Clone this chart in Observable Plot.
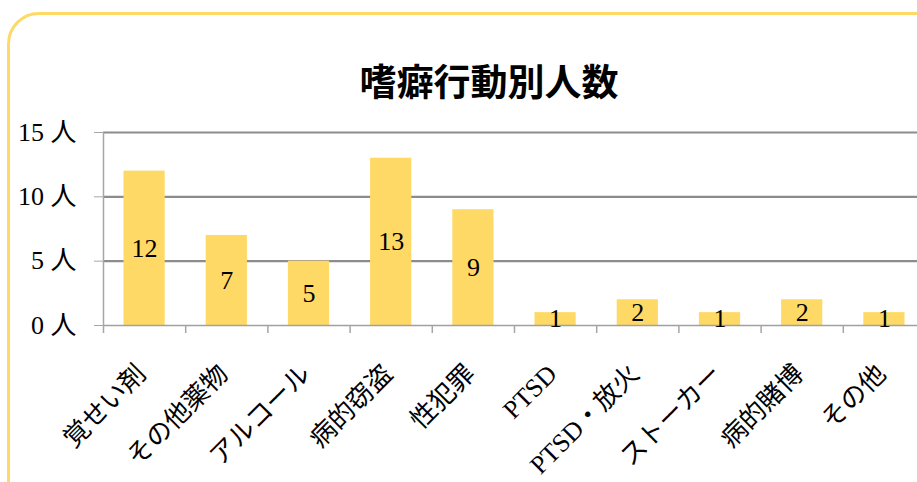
<!DOCTYPE html>
<html>
<head>
<meta charset="utf-8">
<script src="https://cdn.jsdelivr.net/npm/d3@7"></script>
<script src="https://cdn.jsdelivr.net/npm/@observablehq/plot@0.6"></script>
<style>
  html, body { margin: 0; padding: 0; background: #fff; }
  #wrap { position: relative; width: 917px; height: 482px; overflow: hidden; background: #fff; }
  #frame { position: absolute; left: 7px; top: 12px; width: 960px; height: 520px; border: 3px solid #FFD966; border-radius: 32px; box-sizing: border-box; }
  #title { position: absolute; left: 0; width: 978px; top: 57px; text-align: center; font-family: "Noto Sans CJK JP", sans-serif; font-weight: bold; font-size: 37px; line-height: 46px; color: #000; }
  #chart { position: absolute; left: 0; top: 110px; width: 940px; }
  #chart svg { max-width: none !important; }
</style>
</head>
<body>
<div id="wrap">
  <div id="frame"></div>
  <div id="title">嗜癖行動別人数</div>
  <div id="chart"></div>
</div>
<script>
const categories = ["覚せい剤", "その他薬物", "アルコール", "病的窃盗", "性犯罪", "PTSD", "PTSD・放火", "ストーカー", "病的賭博", "その他"];
const counts = [12, 7, 5, 13, 9, 1, 2, 1, 2, 1];
const yTicks = [0, 5, 10, 15];
const boundaries = d3.range(0, categories.length + 1);

const data = categories.map((c, i) => ({c, v: counts[i], i}));
const serif = "'Liberation Serif', 'Noto Sans CJK JP', serif";

const chart = Plot.plot({
  width: 940,
  height: 372,
  marginLeft: 103,
  marginRight: 15,
  marginTop: 22,
  marginBottom: 157,
  x: {domain: [0, categories.length], axis: null},
  y: {domain: [0, 15], axis: null},
  style: {fontFamily: serif, background: "transparent", overflow: "visible", color: "#000", maxWidth: "none"},
  marks: [
    Plot.ruleY(yTicks.filter(d => d > 0), {stroke: "#8c8c8c", strokeWidth: 2.2}),
    Plot.rectY(data, {x1: "i", x2: d => d.i + 1, y1: 0, y2: "v", fill: "#FFD966", insetLeft: 20.5, insetRight: 20.5}),
    Plot.ruleY([0], {stroke: "#a0a0a0", strokeWidth: 1.5}),
    Plot.ruleX([0], {y1: 0, y2: 15, stroke: "#a6a6a6", strokeWidth: 1.5}),
    Plot.ruleX(boundaries, {y1: 0, y2: 0, insetBottom: -8, stroke: "#a6a6a6", strokeWidth: 1.5}),
    Plot.axisY({ticks: yTicks, tickSize: 9, tickPadding: 18, tickFormat: d => d + " 人", fontSize: 26, stroke: "#a6a6a6", label: null}),
    Plot.text(data, {x: d => d.i + 0.5, y: d => d.v / 2, text: d => String(d.v), fontSize: 26, fill: "#000"}),
    Plot.text(data, {x: d => d.i + 0.5, y: 0, text: "c", rotate: -45, textAnchor: "end", dx: -3, dy: 44, fontSize: 26, fill: "#000"})
  ]
});
document.getElementById("chart").appendChild(chart);
</script>
</body>
</html>
